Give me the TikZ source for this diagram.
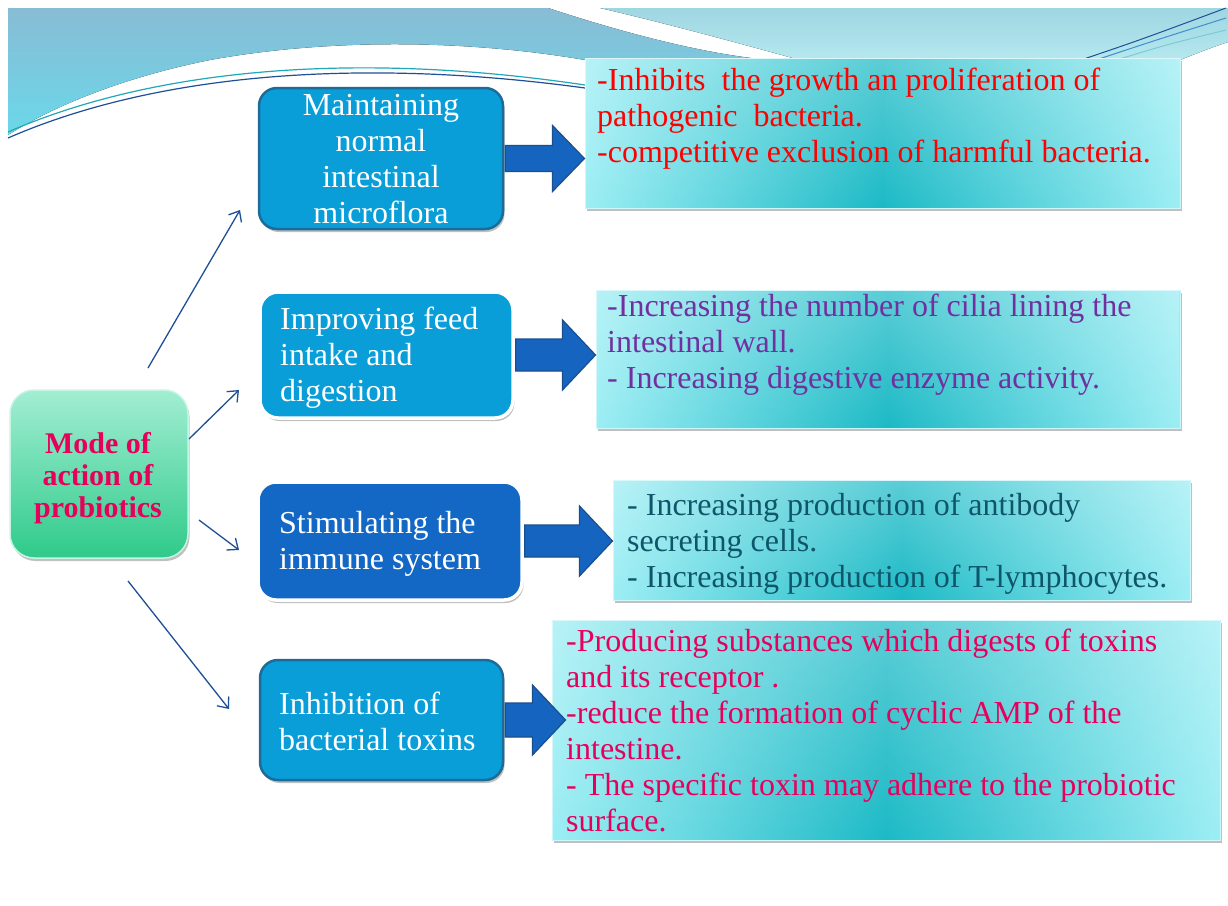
\documentclass[tikz,border=0pt]{standalone}
\usepackage{fontspec}
\setmainfont{Liberation Serif}
\usetikzlibrary{shadows,fadings,calc,arrows.meta}
\definecolor{boxblue}{HTML}{0A9ED8}
\definecolor{boxdark}{HTML}{1268C4}
\definecolor{boxrim}{HTML}{1C6C9A}
\definecolor{arrfill}{HTML}{1565C0}
\definecolor{arrrim}{HTML}{1B4E8C}
\definecolor{linkblue}{HTML}{1F4F96}
\definecolor{tbedge}{HTML}{9CEEF4}
\definecolor{tbmid}{HTML}{1CBAC6}
\definecolor{greentop}{HTML}{A2EED3}
\definecolor{greenbot}{HTML}{2FCA8A}
\definecolor{txtred}{HTML}{FF0000}
\definecolor{txtpurple}{HTML}{7030A0}
\definecolor{txtteal}{HTML}{0F566A}
\definecolor{txtpink}{HTML}{E6005C}
\definecolor{bgAa}{HTML}{88BCD4}
\definecolor{bgAb}{HTML}{6AD8EA}
\definecolor{bgBa}{HTML}{9ED6E2}
\definecolor{bgBb}{HTML}{B6E8EE}
\definecolor{lineteal}{HTML}{20A8B8}
\definecolor{linemid}{HTML}{3F8FD0}
\tikzfading[name=fadetop, top color=transparent!0, bottom color=transparent!100]
\begin{document}
\begin{tikzpicture}[x=1pt,y=-1pt,
  boxshadow/.style={drop shadow={shadow xshift=1.5pt,shadow yshift=-3pt,opacity=0.35,fill=black!70}},
  bluebox/.style={rectangle, rounded corners=18pt, fill=boxblue, draw=boxrim, line width=2.5pt, boxshadow},
  whitebox/.style={rectangle, rounded corners=18pt, fill=boxblue, draw=white, line width=3.5pt, boxshadow},
  textbox/.style={rectangle, draw=tbedge!50!white, line width=1pt, left color=tbedge, right color=tbedge, middle color=tbmid, boxshadow, postaction={fill=white, fill opacity=0.28, path fading=fadetop}},
  cbox/.style={rectangle, rounded corners=24pt, top color=greentop, bottom color=greenbot, draw=greentop!60!white, line width=1.5pt, boxshadow},
  bt/.style={inner sep=0pt, text=white, font=\fontsize{32}{36}\selectfont, align=left, anchor=north west},
  tt/.style={inner sep=0pt, font=\fontsize{32}{36}\selectfont, align=left, anchor=north west},
  barrow/.style={fill=arrfill, draw=arrrim, line width=1.2pt, line join=miter},
  link/.style={draw=linkblue, line width=1.3pt, -{Straight Barb[length=9pt,width=15pt]}}
]
\useasboundingbox (0,0) rectangle (1228,905);
\fill[white] (0,0) rectangle (1228,905);
% background decoration
\fill[top color=bgAa, bottom color=bgAb] (8,8) -- (548,8) .. controls (630,35) and (710,55) .. (770,60) -- (585,60) .. controls (470,40) and (330,38) .. (210,60) .. controls (120,78) and (50,108) .. (8,135) -- cycle;
\fill[top color=bgBa, bottom color=bgBb] (600,8) -- (1228,8) -- (1228,42) .. controls (1210,48) and (1195,54) .. (1180,60) -- (800,60) .. controls (720,38) and (660,22) .. (600,8) -- cycle;
\draw[lineteal, line width=1.2pt] (8,132) .. controls (150,70) and (350,50) .. (585,85);
\draw[linkblue, line width=1.2pt] (8,138) .. controls (150,76) and (350,56) .. (585,88);
\draw[linkblue, line width=1pt] (1075,62) .. controls (1140,40) .. (1226,8);
\draw[linemid, line width=1pt] (1090,62) .. controls (1150,42) .. (1226,18);
\draw[lineteal!60!white, line width=1pt] (1110,62) .. controls (1165,45) .. (1226,30);

% text boxes
\node[textbox, minimum width=595pt, minimum height=150pt] (t1) at (882.5,133) {};
\node[textbox, minimum width=584pt, minimum height=138pt] (t2) at (888,359) {};
\node[textbox, minimum width=577pt, minimum height=120pt] (t3) at (901.5,540) {};
\node[textbox, minimum width=668pt, minimum height=220pt] (t4) at (886,730) {};

% category boxes
\node[bluebox, minimum width=244pt, minimum height=141pt] (b1) at (381,158.5) {};
\node[whitebox, minimum width=253pt, minimum height=126pt] (b2) at (386.5,355) {};
\node[whitebox, fill=boxdark, minimum width=264pt, minimum height=118pt] (b3) at (390,541) {};
\node[bluebox, minimum width=243pt, minimum height=120pt] (b4) at (381.5,720) {};

% block arrows
\draw[barrow] let \p1=(b1.east), \p2=(t1.west) in
  (\x1+1pt,\y1+13pt) -- (\x2-32pt,\y1+13pt) -- (\x2-32pt,\y1+33pt) -- (\x2,\y1) -- (\x2-32pt,\y1-33pt) -- (\x2-32pt,\y1-13pt) -- (\x1+1pt,\y1-13pt) -- cycle;
\draw[barrow] let \p1=(b2.east), \p2=(t2.west) in
  (\x1+1pt,\y1+16pt) -- (\x2-33pt,\y1+16pt) -- (\x2-33pt,\y1+35pt) -- (\x2,\y1) -- (\x2-33pt,\y1-35pt) -- (\x2-33pt,\y1-16pt) -- (\x1+1pt,\y1-16pt) -- cycle;
\draw[barrow] let \p1=(b3.east), \p2=(t3.west) in
  (\x1+1pt,\y1+16pt) -- (\x2-33pt,\y1+16pt) -- (\x2-33pt,\y1+35pt) -- (\x2,\y1) -- (\x2-33pt,\y1-35pt) -- (\x2-33pt,\y1-16pt) -- (\x1+1pt,\y1-16pt) -- cycle;
\draw[barrow] let \p1=(b4.east), \p2=(t4.west) in
  (\x1+1pt,\y1+17pt) -- (\x2-19pt,\y1+17pt) -- (\x2-19pt,\y1+35pt) -- (\x2+14pt,\y1) -- (\x2-19pt,\y1-35pt) -- (\x2-19pt,\y1-17pt) -- (\x1+1pt,\y1-17pt) -- cycle;

% central node
\node[cbox, minimum width=178pt, minimum height=168pt] (c) at (99,474) {};
\node[inner sep=0pt, anchor=north, align=center, text=txtpink, font=\bfseries\fontsize{30}{32}\selectfont] (ctxt) at (98,431.2) {\strut Mode of\\action of\\probiotics};

% texts of category boxes
\node[bt, align=center, anchor=north] (b1txt) at (381,89.8) {\strut Maintaining\\normal\\intestinal\\microflora};
\node[bt] (b2txt) at (280,303.8) {\strut Improving feed\\intake and\\digestion};
\node[bt] (b3txt) at (279,508.3) {\strut Stimulating the\\immune system};
\node[bt] (b4txt) at (279,688.8) {\strut Inhibition of\\bacterial toxins};

% texts of detail boxes
\node[tt, text=txtred] (t1txt) at (597,64.8) {\strut -Inhibits\ \ the growth an proliferation of\\pathogenic\ \ bacteria.\\-competitive exclusion of harmful bacteria.};
\node[tt, text=txtpurple] (t2txt) at (607,291.3) {\strut -Increasing the number of cilia lining the\\intestinal wall.\\- Increasing digestive enzyme activity.};
\node[tt, text=txtteal] (t3txt) at (627,489.8) {\strut - Increasing production of antibody\\secreting cells.\\- Increasing production of T-lymphocytes.};
\node[tt, text=txtpink] (t4txt) at (566,626.3) {\strut -Producing substances which digests of toxins\\and its receptor .\\-reduce the formation of cyclic AMP of the\\intestine.\\- The specific toxin may adhere to the probiotic\\surface.};

% link arrows
\coordinate (s1) at (148,368);
\coordinate (e1) at (240,210);
\coordinate (s2) at (189,439);
\coordinate (e2) at (239,390);
\coordinate (s3) at (199,520);
\coordinate (e3) at (239,550);
\coordinate (s4) at (128,581);
\coordinate (e4) at (229,709);
\draw[link] (s1) -- (e1);
\draw[link] (s2) -- (e2);
\draw[link] (s3) -- (e3);
\draw[link] (s4) -- (e4);
\end{tikzpicture}
\end{document}
